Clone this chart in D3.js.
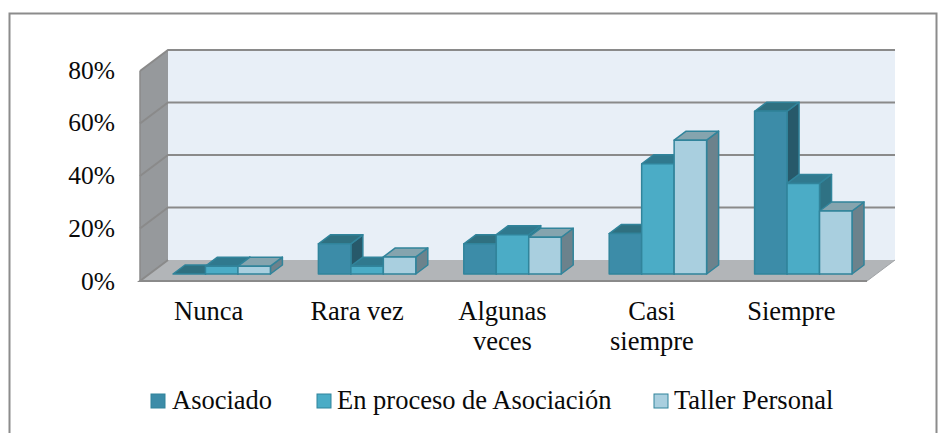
<!DOCTYPE html>
<html><head><meta charset="utf-8">
<script src="https://cdn.jsdelivr.net/npm/d3@7"></script>
<style>html,body{margin:0;padding:0;background:#fff}svg{display:block}text{font-family:"Liberation Serif",serif;fill:#0a0a0a}</style>
</head><body><div id="c"></div>
<script>
const categories=[["Nunca"],["Rara vez"],["Algunas","veces"],["Casi","siempre"],["Siempre"]];
const seriesNames=["Asociado","En proceso de Asociación","Taller Personal"];
const asociado=[0,11.5,11.5,15.4,62];
const enProceso=[3,3,15,42,34.5];
const taller=[3,6.5,14,51,24];
const yTicks=[0,20,40,60,80];
const seriesColors=[
 {front:"#3c8ca8",top:"#2f7080",side:"#27596a"},
 {front:"#4bacc6",top:"#30798e",side:"#2f7284"},
 {front:"#a9cfdf",top:"#85a4ae",side:"#6c828c"}];
const W=951,H=433;
const svg=d3.select("#c").append("svg").attr("width",W).attr("height",H);
const f={x0:140,x1:867,y0:281,y1:71};
const depth={dx:28,dy:-21};
const x=d3.scaleBand().domain(d3.range(categories.length)).range([f.x0,f.x1]).paddingInner(0.33).paddingOuter(0.165);
const inner=d3.scaleBand().domain(d3.range(3)).range([0,x.bandwidth()]);
const y=d3.scaleLinear().domain([0,80]).range([f.y0,f.y1]);
const yLabel=d3.scaleLinear().domain([0,80]).range([290,78.5]);
const poly=p=>p.map(a=>a.join(",")).join(" ");
svg.append("path").attr("d",`M9.5 ${H}V13.5H936.5V${H}`).attr("fill","none").attr("stroke","#8c8c8c").attr("stroke-width",2);
svg.append("polygon").attr("points",poly([[f.x0,y(80)],[f.x0+depth.dx,y(80)+depth.dy],[f.x0+depth.dx,y(0)+depth.dy],[f.x0,y(0)]])).attr("fill","#96999c");
svg.append("polygon").attr("points",poly([[f.x0+depth.dx,y(80)+depth.dy],[f.x1+depth.dx,y(80)+depth.dy],[f.x1+depth.dx,y(0)+depth.dy],[f.x0+depth.dx,y(0)+depth.dy]])).attr("fill","#e8eff7");
svg.append("polygon").attr("points",poly([[f.x0,y(0)],[f.x0+depth.dx,y(0)+depth.dy],[f.x1+depth.dx,y(0)+depth.dy],[f.x1,y(0)]])).attr("fill","#b2b5b8");
yTicks.forEach(t=>{
  const pts=t===0?[[f.x1,y(t)],[f.x0,y(t)],[f.x0+depth.dx,y(t)+depth.dy]]:[[f.x0,y(t)],[f.x0+depth.dx,y(t)+depth.dy],[f.x1+depth.dx,y(t)+depth.dy]];
  svg.append("polyline").attr("points",poly(pts)).attr("fill","none").attr("stroke","#8a8a8a").attr("stroke-width",2);
});
svg.append("polyline").attr("points",poly([[f.x0,y(0)],[f.x0,y(80)]])).attr("stroke","#8a8a8a").attr("stroke-width",1.5).attr("fill","none");
svg.append("polyline").attr("points",poly([[f.x1,y(0)],[f.x1+depth.dx,y(0)+depth.dy]])).attr("stroke","#a0a3a6").attr("stroke-width",1).attr("fill","none");
const barOff={dx:9,dy:-7},barD={dx:12,dy:-9};
const stroke="#31849b";
categories.forEach((c,i)=>{
  [asociado,enProceso,taller].forEach((vals,s)=>{
    const v=vals[i],col=seriesColors[s];
    const a=x(i)+inner(s)+barOff.dx,b=a+inner.bandwidth();
    const bot=y(0)+barOff.dy,top=y(v)+barOff.dy;
    const g=svg.append("g").attr("stroke",stroke).attr("stroke-width",1.5).attr("stroke-linejoin","round");
    g.append("polygon").attr("points",poly([[b,top],[b+barD.dx,top+barD.dy],[b+barD.dx,bot+barD.dy],[b,bot]])).attr("fill",col.side);
    g.append("polygon").attr("points",poly([[a,top],[a+barD.dx,top+barD.dy],[b+barD.dx,top+barD.dy],[b,top]])).attr("fill",col.top);
    g.append("rect").attr("x",a).attr("y",top).attr("width",b-a).attr("height",bot-top).attr("fill",col.front);
  });
});
svg.selectAll(".yl").data(yTicks).join("text").attr("class","yl")
  .attr("x",115).attr("y",d=>yLabel(d)).attr("text-anchor","end").attr("font-size",25.5).text(d=>d+"%");
const labelShift=[-4,-1,-1,3,-3];
categories.forEach((c,i)=>{
  c.forEach((l,j)=>svg.append("text").attr("x",x(i)+x.bandwidth()/2+labelShift[i]).attr("y",320+j*30).attr("text-anchor","middle").attr("font-size",26.5).text(l));
});
const legendX=[151,317,654],textX=[172,337,674];
seriesNames.forEach((n,i)=>{
  svg.append("rect").attr("x",legendX[i]).attr("y",394).attr("width",14).attr("height",14).attr("fill",seriesColors[i].front).attr("stroke",stroke).attr("stroke-width",1);
  svg.append("text").attr("x",textX[i]).attr("y",409).attr("font-size",26.5).text(n);
});
</script></body></html>
